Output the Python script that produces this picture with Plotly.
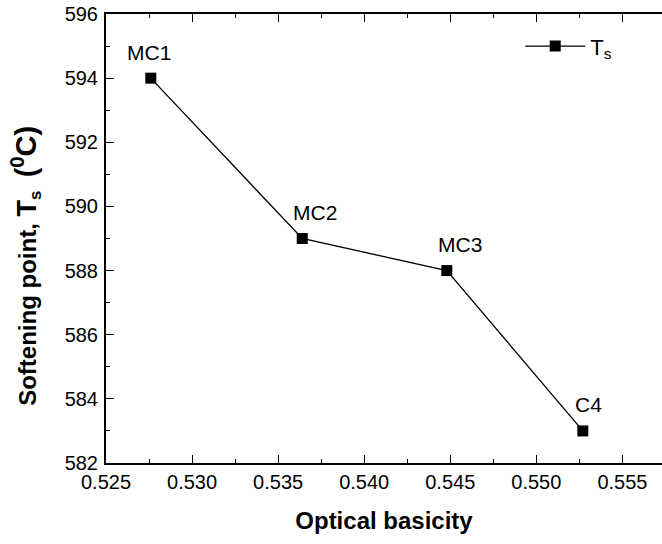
import plotly.graph_objects as go

basicity = [0.5276, 0.5364, 0.5448, 0.5527]
softening = [594, 589, 588, 583]
labels = ["MC1", "MC2", "MC3", "C4"]
label_xshift = [-2, 13, 13, 6]

fig = go.Figure()
fig.add_trace(go.Scatter(
    x=basicity, y=softening, mode="lines+markers", name="T<sub>s</sub>",
    line=dict(color="black", width=1.3),
    marker=dict(symbol="square", size=11, color="black"),
))

for xv, yv, t, xs in zip(basicity, softening, labels, label_xshift):
    fig.add_annotation(x=xv, y=yv, text=t, showarrow=False, xshift=xs, yshift=26,
                       font=dict(size=21, color="black", family="Liberation Sans, Arial"))

# y-axis title (placed as rotated text)
fig.add_annotation(
    xref="paper", yref="paper", x=-0.145, y=0.44, xanchor="center", yanchor="middle",
    textangle=-90, showarrow=False,
    text="<b>Softening point, <span style='font-size:27px'>T</span><sub>s</sub>&nbsp;&nbsp;"
         "<span style='font-size:29px'>(<sup>0</sup>C)</span></b>",
    font=dict(size=24, color="black", family="Liberation Sans, Arial"),
)

axis_common = dict(showline=True, linecolor="black", linewidth=2, ticks="inside",
                   tickcolor="black", tickwidth=1.3, ticklen=8, showgrid=False,
                   zeroline=False, tickfont=dict(size=20, color="black"))

fig.update_xaxes(range=[0.525, 0.5573], dtick=0.005, tick0=0.525, tickformat=".3f",
                 mirror="ticks",
                 minor=dict(ticks="inside", ticklen=4, dtick=0.0025, tick0=0.525, tickcolor="black"),
                 title=dict(text="<b>Optical basicity</b>", font=dict(size=24, color="black"), standoff=20),
                 **axis_common)
fig.update_yaxes(range=[582, 596], dtick=2, mirror=False, ticklabelstandoff=2,
                 minor=dict(ticks="inside", ticklen=4, dtick=1, tickcolor="black"),
                 **axis_common)

fig.update_layout(
    width=662, height=544,
    margin=dict(l=106, r=0, t=14, b=81),
    plot_bgcolor="white", paper_bgcolor="white",
    font=dict(family="Liberation Sans, Arial", color="black"),
    showlegend=True,
    legend=dict(x=0.745, y=0.975, xanchor="left", yanchor="top", bgcolor="rgba(0,0,0,0)",
                font=dict(size=22), itemwidth=60),
)

fig.write_html("out.html")
